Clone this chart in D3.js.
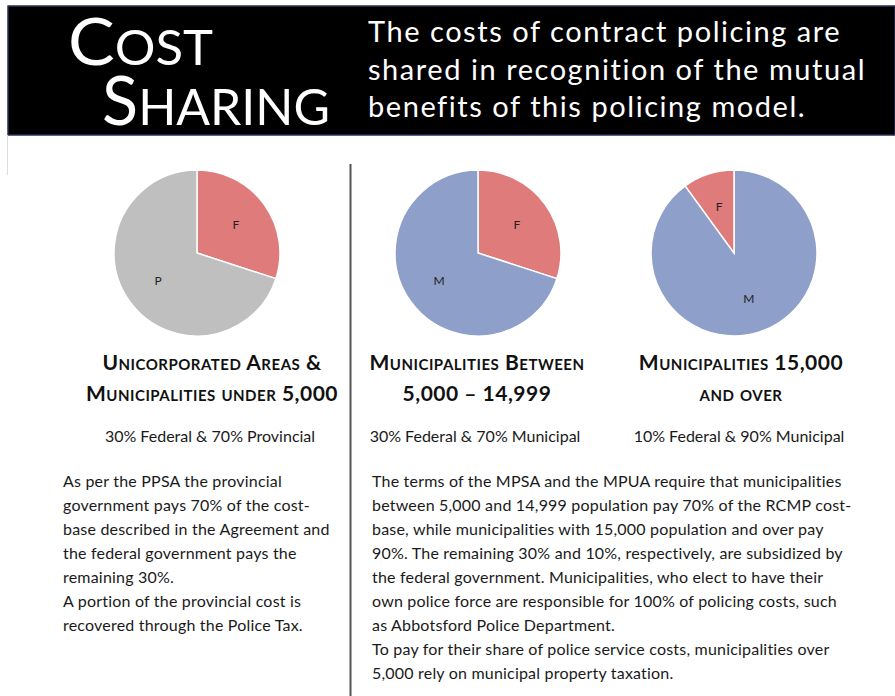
<!DOCTYPE html>
<html>
<head>
<meta charset="utf-8">
<script src="https://cdn.jsdelivr.net/npm/d3@7"></script>
<style>
  body { margin: 0; background: #fff; }
  svg { display: block; }
  .head { font-family: Lato, "Open Sans", sans-serif; fill: #fff; }
  .heading { font-family: Lato, sans-serif; font-weight: 700; font-variant: small-caps; fill: #111; }
  .body { font-family: Lato, sans-serif; fill: #1a1a1a; }
</style>
</head>
<body>
<script>
// slices per chart, in clockwise order from 12 o'clock
const sliceKeys = [["F", "P"], ["F", "M"], ["M", "F"]];
const sliceValues = [[30, 70], [30, 70], [90, 10]];
const headingLines = [
  ["Unicorporated Areas &", "Municipalities under 5,000"],
  ["Municipalities Between", "5,000 – 14,999"],
  ["Municipalities 15,000", "and over"],
];
const captions = [
  "30% Federal & 70% Provincial",
  "30% Federal & 70% Municipal",
  "10% Federal & 90% Municipal",
];
const introLines = [
  "The costs of contract policing are",
  "shared in recognition of the mutual",
  "benefits of this policing model.",
];
const leftNotes = [
  "As per the PPSA the provincial",
  "government pays 70% of the cost-",
  "base described in the Agreement and",
  "the federal government pays the",
  "remaining 30%.",
  "A portion of the provincial cost is",
  "recovered through the Police Tax.",
];
const rightNotes = [
  "The terms of the MPSA and the MPUA require that municipalities",
  "between 5,000 and 14,999 population pay 70% of the RCMP cost-",
  "base, while municipalities with 15,000 population and over pay",
  "90%. The remaining 30% and 10%, respectively, are subsidized by",
  "the federal government. Municipalities, who elect to have their",
  "own police force are responsible for 100% of policing costs, such",
  "as Abbotsford Police Department.",
  "To pay for their share of police service costs, municipalities over",
  "5,000 rely on municipal property taxation.",
];

const width = 895;
const height = 696;

const color = d3.scaleOrdinal()
  .domain(["F", "P", "M"])
  .range(["#e07b7b", "#bfbfbf", "#8e9fc9"]);

const svg = d3.select("body").append("svg")
  .attr("width", width)
  .attr("height", height);

// header band
svg.append("rect")
  .attr("x", 8).attr("y", 6)
  .attr("width", width - 8).attr("height", 129)
  .attr("fill", "#000")
  .attr("stroke", "#2a2f55").attr("stroke-width", 1.5);

svg.append("line")
  .attr("x1", 7.5).attr("x2", 7.5).attr("y1", 135).attr("y2", 175)
  .attr("stroke", "#ddd");

const title = svg.append("g").attr("class", "head");
const t1 = title.append("text").attr("x", 68).attr("y", 65)
  .attr("textLength", 145).attr("lengthAdjust", "spacingAndGlyphs");
t1.append("tspan").attr("font-size", 66).text("C");
t1.append("tspan").attr("font-size", 48).text("OST");
const t2 = title.append("text").attr("x", 102).attr("y", 125)
  .attr("textLength", 228).attr("lengthAdjust", "spacingAndGlyphs");
t2.append("tspan").attr("font-size", 68).text("S");
t2.append("tspan").attr("font-size", 51).text("HARING");

title.selectAll("text.intro")
  .data(introLines)
  .join("text")
  .attr("class", "intro")
  .attr("x", 368)
  .attr("y", (d, i) => 42 + i * 37.5)
  .attr("font-size", 29)
  .attr("letter-spacing", 1.55)
  .text((d) => d);

// divider
svg.append("line")
  .attr("x1", 350.5).attr("x2", 350.5).attr("y1", 164).attr("y2", height)
  .attr("stroke", "#555").attr("stroke-width", 2);

// pies
const pieCx = [197, 478, 734];
const headCx = [212, 477, 741];
const radius = 83;
const pie = d3.pie().sort(null).value((d) => d.value);
const arc = d3.arc().innerRadius(0).outerRadius(radius);
const labelArc = d3.arc().innerRadius(radius * 0.58).outerRadius(radius * 0.58);

sliceKeys.forEach((keys, c) => {
  const slices = keys.map((k, i) => ({ key: k, value: sliceValues[c][i] }));
  const g = svg.append("g").attr("transform", `translate(${pieCx[c]},253)`);
  const arcs = pie(slices);

  g.selectAll("path")
    .data(arcs)
    .join("path")
    .attr("d", arc)
    .attr("fill", (d) => color(d.data.key))
    .attr("stroke", "#fff")
    .attr("stroke-width", 1.5);

  g.selectAll("text")
    .data(arcs)
    .join("text")
    .attr("transform", (d) => `translate(${labelArc.centroid(d)})`)
    .attr("text-anchor", "middle")
    .attr("dy", "0.35em")
    .attr("font-family", "Lato, sans-serif")
    .attr("font-size", 12)
    .attr("fill", "#222")
    .text((d) => d.data.key);

  svg.append("g").selectAll("text")
    .data(headingLines[c])
    .join("text")
    .attr("class", "heading")
    .attr("x", headCx[c])
    .attr("y", (d, i) => 370 + i * 31)
    .attr("text-anchor", "middle")
    .attr("font-size", 21)
    .attr("letter-spacing", 0.5)
    .text((d) => d);

  svg.append("text")
    .attr("class", "body")
    .attr("x", headCx[c] - 2)
    .attr("y", 442)
    .attr("text-anchor", "middle")
    .attr("font-size", 16)
    .text(captions[c]);
});

// notes
const noteBlock = (lines, x) =>
  svg.append("g").selectAll("text")
    .data(lines)
    .join("text")
    .attr("class", "body")
    .attr("x", x)
    .attr("y", (d, i) => 487 + i * 24)
    .attr("font-size", 16)
    .attr("letter-spacing", 0.2)
    .text((d) => d);

noteBlock(leftNotes, 63);
noteBlock(rightNotes, 372);
</script>
</body>
</html>
